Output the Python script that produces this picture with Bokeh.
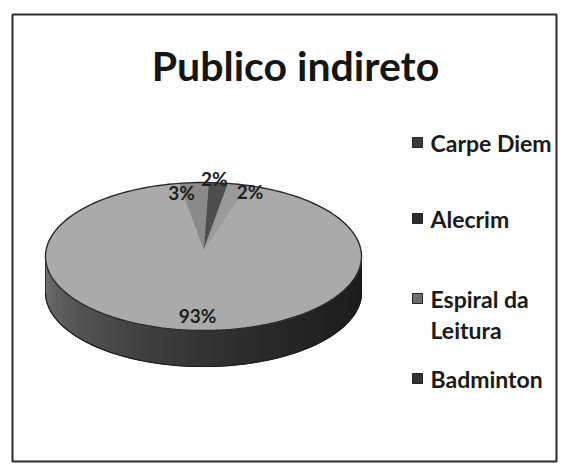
import numpy as np
from bokeh.plotting import figure
from bokeh.models import Range1d
from bokeh.core.properties import value
from bokeh.embed import file_html
from bokeh.resources import INLINE

title = "Publico indireto"
labels = ["Carpe Diem", "Alecrim", "Espiral da Leitura", "Badminton"]
values = [2, 3, 93, 2]
pct_labels = ["2%", "3%", "93%", "2%"]
legend_lines = [["Carpe Diem"], ["Alecrim"], ["Espiral da", "Leitura"], ["Badminton"]]

top_colors = ["#4e4e4e", "#8a8a8a", "#aaaaaa", "#9a9a9a"]
legend_colors = ["#3a3a3a", "#2e2e2e", "#6e6e6e", "#333333"]

W, H = 566, 463
p = figure(width=W, height=H, output_backend="svg", toolbar_location=None,
           x_range=Range1d(0, W), y_range=Range1d(H, 0), min_border=0)
p.axis.visible = False
p.grid.visible = False
p.outline_line_color = None
p.background_fill_color = "#ffffff"
p.border_fill_color = "#ffffff"

# frame
p.quad(left=[12], right=[556], top=[14], bottom=[461], fill_color="#fdfdfd",
       line_color="#2a2a2a", line_width=2)

# pie geometry (pixel coordinates)
cx, cy, a, b, depth = 203, 256, 158, 74, 36

def pt(theta_deg, dy=0.0):
    t = np.radians(theta_deg)
    return cx + a * np.sin(t), cy - b * np.cos(t) + dy

total = float(sum(values))
spans = [v / total * 360.0 for v in values]
al_start = -9.0
al = (al_start, al_start + spans[1])
cd = (al[1], al[1] + spans[0])
bd = (cd[1], cd[1] + spans[3])
es = (bd[1], al[0] + 360)
ranges = [cd, al, es, bd]

# side of the pie (front half), darker toward the right
n = 60
thetas = np.linspace(90, 270, n + 1)
xs_side, ys_side, cols = [], [], []
for i in range(n):
    t1, t2 = thetas[i], thetas[i + 1]
    tt = np.linspace(t1, t2, 4)
    top = [pt(t) for t in tt]
    bot = [pt(t, depth) for t in tt[::-1]]
    poly = top + bot
    xs_side.append([q[0] for q in poly])
    ys_side.append([q[1] for q in poly])
    xm = (top[0][0] + top[-1][0]) / 2
    f = min(1.0, max(0.0, (xm - (cx - a)) / (2 * a))) ** 0.45
    g = int(round(0x74 * (1 - f) + 0x1c * f))
    cols.append("#%02x%02x%02x" % (g, g, g))
p.patches(xs_side, ys_side, fill_color=cols, line_color=cols, line_width=1)
tt = np.linspace(90, 270, 80)
p.line([pt(t, depth)[0] for t in tt], [pt(t, depth)[1] for t in tt], line_color="#1a1a1a", line_width=1.2)
p.line([cx - a, cx - a], [cy, cy + depth], line_color="#333333")
p.line([cx + a, cx + a], [cy, cy + depth], line_color="#1a1a1a")

# top faces
xs_top, ys_top = [], []
for (t1, t2) in ranges:
    tt = np.linspace(t1, t2, max(4, int(abs(t2 - t1)) + 2))
    poly = [(cx, cy - 6)] + [pt(t) for t in tt]
    xs_top.append([q[0] for q in poly])
    ys_top.append([q[1] for q in poly])
p.patches(xs_top, ys_top, fill_color=top_colors, line_color=top_colors, line_width=0.5)
tt = np.linspace(0, 360, 200)
p.line([pt(t)[0] for t in tt], [pt(t)[1] for t in tt], line_color="#2a2a2a", line_width=1.4)

# percentage labels
lx, ly = [], []
nudges = [(-4, -4), (-12, 10), (2, 0), (12, 7)]
for (t1, t2), (nx, ny), v in zip(ranges, nudges, values):
    mid = (t1 + t2) / 2
    r = 0.80 if v > 50 else 1.0
    x, y = cx + a * r * np.sin(np.radians(mid)), cy - b * r * np.cos(np.radians(mid))
    lx.append(x + nx)
    ly.append(y + ny)
p.text(x=lx, y=ly, text=pct_labels, text_font=value("Lato"), text_font_style="bold",
       text_font_size="19px", text_color="#1e1e1e", text_align="center", text_baseline="middle")

# title
p.text(x=[295], y=[65], text=[title], text_font=value("Lato"), text_font_style="bold",
       text_font_size="41px", text_color="#151515", text_align="center", text_baseline="middle")

# legend
leg_y = [142, 218, 298, 378]
p.rect(x=[417] * 4, y=leg_y, width=10, height=10, fill_color=legend_colors, line_color="#222222")
tx, ty, tt_ = [], [], []
for y0, lines in zip(leg_y, legend_lines):
    for k, s in enumerate(lines):
        tx.append(430)
        ty.append(y0 + k * 31)
        tt_.append(s)
p.text(x=tx, y=ty, text=tt_, text_font=value("Lato"), text_font_style="bold",
       text_font_size="23px", text_color="#1a1a1a", text_align="left", text_baseline="middle")

open("out.html", "w").write(file_html(p, INLINE))
